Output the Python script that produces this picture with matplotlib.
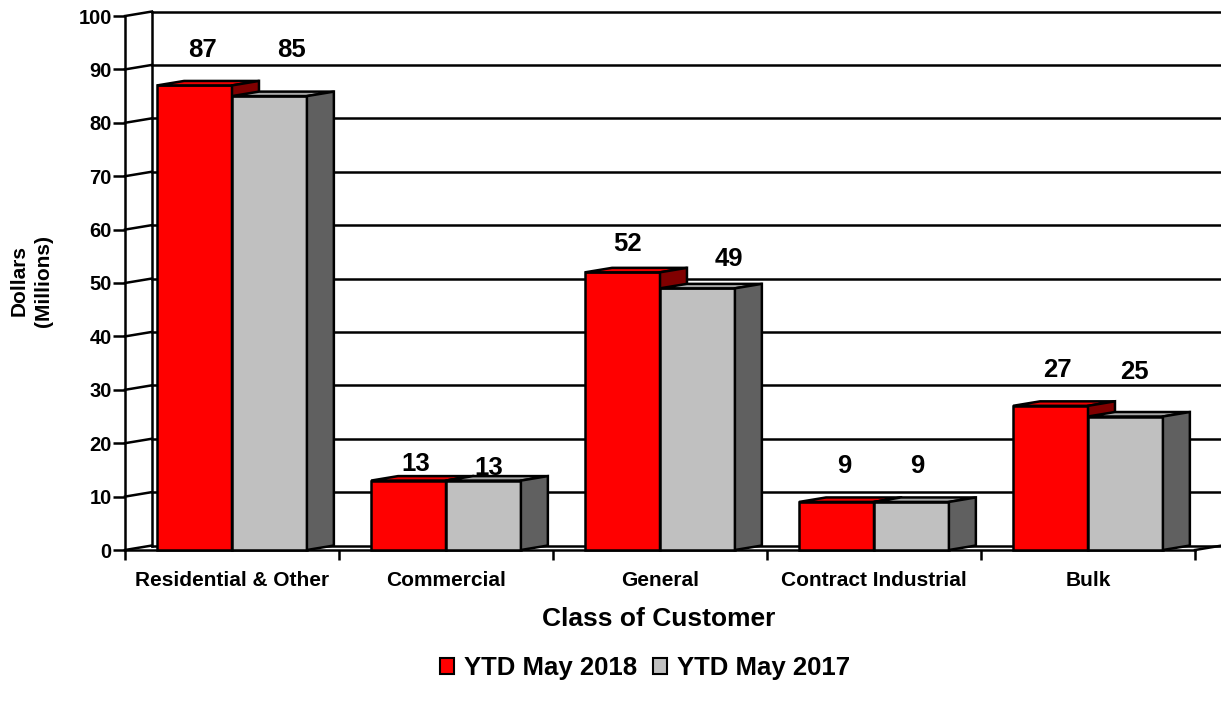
import matplotlib
matplotlib.use("Agg")
import matplotlib.pyplot as plt
from matplotlib.patches import Polygon, Patch

categories = ["Residential & Other", "Commercial", "General", "Contract Industrial", "Bulk"]
ytd_2018 = [87, 13, 52, 9, 27]
ytd_2017 = [85, 13, 49, 9, 25]
series_names = ["YTD May 2018", "YTD May 2017"]
yticks = list(range(0, 101, 10))

# label placement tweaks (x offset within category, y offset above value)
lab_x_2018 = [0.36, 0.36, 0.35, 0.36, 0.355]
lab_x_2017 = [0.78, 0.70, 0.82, 0.70, 0.715]
lab_dy_2018 = [6.6, 3.1, 5.3, 6.7, 6.7]
lab_dy_2017 = [8.6, 2.4, 5.5, 6.7, 8.3]

plt.rcParams['font.family'] = ['Liberation Sans', 'DejaVu Sans']
plt.rcParams['font.weight'] = 'bold'

W, H = 1221, 715
fig = plt.figure(figsize=(W / 100, H / 100), dpi=100)
ax = fig.add_axes([125 / W, (H - 550) / H, (1195 - 125) / W, (550 - 16) / H])
ax.set_xlim(0, 5)
ax.set_ylim(0, 100)

dx, dy = 0.126, 0.84  # depth offsets in data units
ec = "black"
lw = 1.8

# back wall
ax.plot([dx, dx], [dy, 100 + dy], color=ec, lw=lw, clip_on=False, zorder=1)
ax.plot([5 + dx, 5 + dx], [dy, 100 + dy], color=ec, lw=lw, clip_on=False, zorder=1)
for v in yticks:
    ax.plot([dx, 5 + dx], [v + dy, v + dy], color=ec, lw=lw, clip_on=False, zorder=1)
    ax.plot([0, dx], [v, v + dy], color=ec, lw=lw, clip_on=False, zorder=1)
# floor right edge
ax.plot([5, 5 + dx], [0, dy], color=ec, lw=lw, clip_on=False, zorder=1)

def bar3d(x0, w, v, front, top, side):
    x1 = x0 + w
    polys = [
        ([(x0, 0), (x1, 0), (x1, v), (x0, v)], front),
        ([(x0, v), (x0 + dx, v + dy), (x1 + dx, v + dy), (x1, v)], top),
        ([(x1, 0), (x1 + dx, dy), (x1 + dx, v + dy), (x1, v)], side),
    ]
    for pts, c in polys:
        ax.add_patch(Polygon(pts, closed=True, facecolor=c, edgecolor=ec,
                             lw=lw, joinstyle='miter', clip_on=False, zorder=3))

bw = 0.35
start = 0.15
for i in range(len(categories)):
    bar3d(i + start, bw, ytd_2018[i], "#ff0000", "#ee0000", "#800000")
    bar3d(i + start + bw, bw, ytd_2017[i], "#c0c0c0", "#a8a8a8", "#606060")
    ax.text(i + lab_x_2018[i], ytd_2018[i] + lab_dy_2018[i], str(ytd_2018[i]),
            ha='center', va='center', fontsize=18.5, fontweight='bold', zorder=5)
    ax.text(i + lab_x_2017[i], ytd_2017[i] + lab_dy_2017[i], str(ytd_2017[i]),
            ha='center', va='center', fontsize=18.5, fontweight='bold', zorder=5)

for s in ['top', 'right']:
    ax.spines[s].set_visible(False)
for s in ['left', 'bottom']:
    ax.spines[s].set_linewidth(lw)
    ax.spines[s].set_zorder(2)

ax.set_yticks(yticks)
ax.set_yticklabels([str(v) for v in yticks], fontsize=14.5, fontweight='bold')
ax.tick_params(axis='y', direction='out', length=8.5, width=lw, pad=1)
ax.set_xticks(range(0, 6))
ax.set_xticklabels([])
ax.set_xticks([i + 0.5 for i in range(5)], minor=True)
ax.set_xticklabels(categories, minor=True, fontsize=15, fontweight='bold')
ax.tick_params(axis='x', which='major', direction='out', length=7, width=lw)
ax.tick_params(axis='x', which='minor', length=0, pad=15)

fig.text(659 / W, 1 - 619 / H, "Class of Customer", ha='center', va='center',
         fontsize=19, fontweight='bold')
fig.text(31 / W, 1 - 281 / H, "Dollars\n(Millions)", rotation=90, ha='center',
         va='center', fontsize=15, fontweight='bold', multialignment='center',
         linespacing=1.35)

handles = [Patch(facecolor="#ff0000", edgecolor="black", lw=1.5),
           Patch(facecolor="#c0c0c0", edgecolor="black", lw=1.5)]
fig.legend(handles, series_names, loc='center', bbox_to_anchor=(645 / W, 1 - 668 / H),
           ncol=2, frameon=False, handlelength=0.55, handleheight=0.55,
           handletextpad=0.4, columnspacing=0.6,
           prop={'size': 18.5, 'weight': 'bold'})

fig.savefig("out.png", dpi=100)
